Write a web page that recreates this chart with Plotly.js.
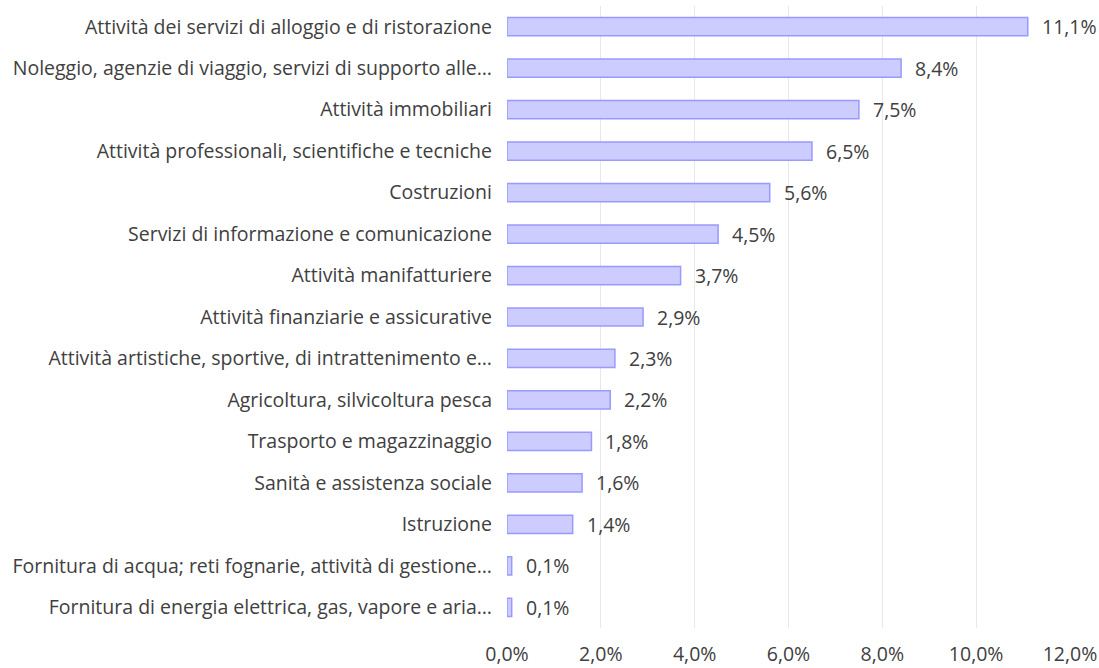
<!DOCTYPE html>
<html>
<head>
<meta charset="utf-8">
<script src="https://cdn.plot.ly/plotly-3.0.1.min.js"></script>
<style>html,body{margin:0;padding:0;background:#fff;}#chart{width:1099px;height:668px;}</style>
</head>
<body>
<div id="chart"></div>
<script>
const categories = [
  "Attività dei servizi di alloggio e di ristorazione",
  "Noleggio, agenzie di viaggio, servizi di supporto alle…",
  "Attività immobiliari",
  "Attività professionali, scientifiche e tecniche",
  "Costruzioni",
  "Servizi di informazione e comunicazione",
  "Attività manifatturiere",
  "Attività finanziarie e assicurative",
  "Attività artistiche, sportive, di intrattenimento e…",
  "Agricoltura, silvicoltura pesca",
  "Trasporto e magazzinaggio",
  "Sanità e assistenza sociale",
  "Istruzione",
  "Fornitura di acqua; reti fognarie, attività di gestione…",
  "Fornitura di energia elettrica, gas, vapore e aria…"
];
const values = [11.1, 8.4, 7.5, 6.5, 5.6, 4.5, 3.7, 2.9, 2.3, 2.2, 1.8, 1.6, 1.4, 0.1, 0.1];
const tickValues = [0, 2, 4, 6, 8, 10, 12];

const fmt = v => v.toFixed(1).replace('.', ',') + '%';
const FONT = 'Open Sans, sans-serif';
const FS = 19.5;

const trace = {
  type: 'bar',
  orientation: 'h',
  x: values,
  y: categories,
  marker: { color: '#ccccff', line: { color: '#9999ff', width: 1.5 } },
  hoverinfo: 'x+y'
};

const annotations = values.map((v, i) => ({
  x: v, y: categories[i], xref: 'x', yref: 'y',
  text: fmt(v), showarrow: false, xanchor: 'left', xshift: 12,
  font: { family: FONT, size: FS, color: '#404040' }
}));

const layout = {
  width: 1099, height: 668,
  margin: { l: 507, r: 29, t: 6, b: 40 },
  paper_bgcolor: '#fff', plot_bgcolor: '#fff',
  separators: ',.',
  bargap: 0.56,
  showlegend: false,
  font: { family: FONT, size: FS, color: '#404040' },
  xaxis: {
    range: [0, 12], tickmode: 'array', tickvals: tickValues, ticktext: tickValues.map(fmt),
    showgrid: true, gridcolor: '#e8e8e8', gridwidth: 1,
    zeroline: false, showline: false, ticks: '',
    tickfont: { family: FONT, size: FS, color: '#404040' }, ticklabelstandoff: 12
  },
  yaxis: {
    autorange: 'reversed', type: 'category',
    showgrid: false, zeroline: false, showline: false, ticks: '',
    ticklabelstandoff: 14, automargin: false,
    tickfont: { family: FONT, size: FS, color: '#404040' }
  },
  annotations: annotations
};

Plotly.newPlot('chart', [trace], layout, { displayModeBar: false, staticPlot: true });
</script>
</body>
</html>
